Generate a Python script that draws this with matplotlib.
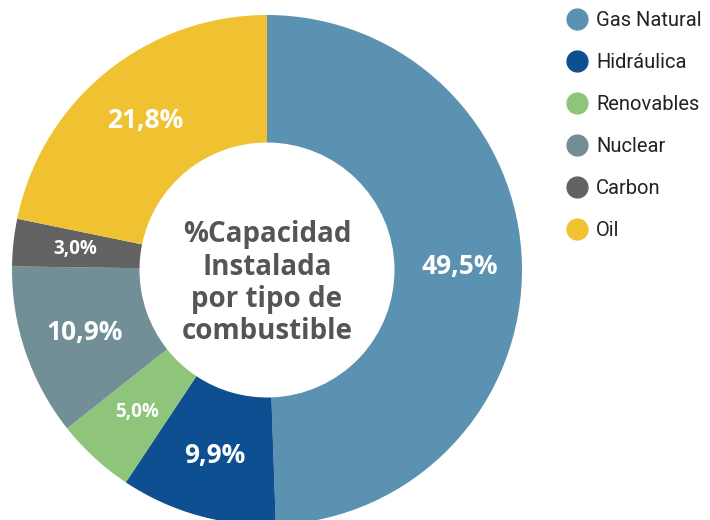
import numpy as np
import matplotlib.pyplot as plt
from matplotlib.lines import Line2D

# capacidad instalada por tipo de combustible (%)
fuentes = ["Gas Natural", "Hidráulica", "Renovables", "Nuclear", "Carbon", "Oil"]
porcentajes = [49.5, 9.9, 5.0, 10.9, 3.0, 21.8]
colores = ["#5b91b1", "#0e4f91", "#8fc57a", "#728e97", "#626262", "#f0c131"]
tam_etiqueta = [19, 19, 13.5, 19, 13.5, 19]

fig = plt.figure(figsize=(7.1, 5.2), dpi=100)
# ejes cuadrados en pixeles: centro (267, 270 desde arriba), radio 255
W, H = 710, 520
cx, cy, r = 267, 520 - 270, 255
ax = fig.add_axes([(cx - r) / W, (cy - r) / H, 2 * r / W, 2 * r / H])

wedges, _ = ax.pie(porcentajes, colors=colores, startangle=90, counterclock=False,
                   radius=1, wedgeprops=dict(width=0.5, linewidth=0))
ax.set_xlim(-1, 1)
ax.set_ylim(-1, 1)
ax.set_aspect("equal")
ax.axis("off")

# etiquetas de porcentaje dentro del anillo
for w, p, fs in zip(wedges, porcentajes, tam_etiqueta):
    ang = np.deg2rad((w.theta1 + w.theta2) / 2)
    rr = 0.755
    texto = f"{p:.1f}%".replace(".", ",")
    ax.text(rr * np.cos(ang), rr * np.sin(ang), texto, ha="center", va="center",
            color="white", fontsize=fs, fontweight="bold", family="Open Sans")

ax.text(0, -0.052, "%Capacidad\nInstalada\npor tipo de\ncombustible", ha="center", va="center",
        color="#555555", fontsize=20, fontweight="bold", family="Open Sans",
        linespacing=1.15)

handles = [Line2D([], [], marker="o", linestyle="", markersize=15, markerfacecolor=c,
                  markeredgecolor=c) for c in colores]
fig.legend(handles, fuentes, loc="upper left", bbox_to_anchor=(545 / W, 1 + 7 / H),
           frameon=False, prop={"family": "Roboto", "size": 14.5}, labelcolor="#222222",
           labelspacing=1.14, handletextpad=0.25, handlelength=1.4)

fig.savefig("out.png", dpi=100)
